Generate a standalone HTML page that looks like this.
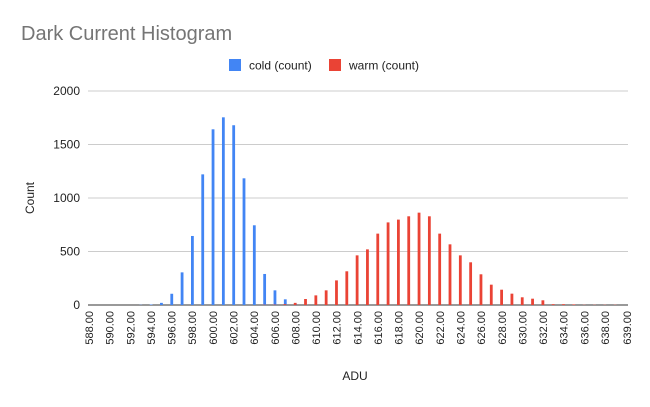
<!DOCTYPE html>
<html><head><meta charset="utf-8"><style>
body{margin:0;background:#fff;font-family:"Liberation Sans",Arial,sans-serif}
svg text{font-family:"Liberation Sans",Arial,sans-serif}
</style></head><body>
<svg id="chart" width="650" height="402" viewBox="0 0 650 402">
<rect width="650" height="402" fill="#fff"/>
<text x="21" y="40" font-size="20" fill="#757575">Dark Current Histogram</text>
<g>
<rect x="229" y="59" width="12" height="12" fill="#4285f4"/>
<text x="249" y="69.5" font-size="12" fill="#222">cold (count)</text>
<rect x="329" y="59" width="12" height="12" fill="#ea4335"/>
<text x="349" y="69.5" font-size="12" fill="#222">warm (count)</text>
</g>
<g id="grid"></g><g id="bars"></g><g id="xlabels"></g>
<text x="355" y="380" font-size="12" fill="#222" text-anchor="middle">ADU</text>
<text transform="translate(34,198) rotate(-90)" font-size="12" fill="#222" text-anchor="middle">Count</text>
</svg>
<script>
const categories=[588,589,590,591,592,593,594,595,596,597,598,599,600,601,602,603,604,605,606,607,608,609,610,611,612,613,614,615,616,617,618,619,620,621,622,623,624,625,626,627,628,629,630,631,632,633,634,635,636,637,638,639];
const coldValues=[0,0,0,0,0,2,5,20,105,305,645,1221,1642,1754,1680,1184,745,290,137,53,10,3,0,0,0,3,0,0,0,0,0,0,0,0,0,0,0,0,0,0,0,0,0,0,0,0,0,0,0,0,0,0];
const warmValues=[0,0,0,0,0,0,0,0,0,0,0,0,0,0,0,0,0,3,4,8,20,56,90,137,230,315,464,520,667,772,798,829,863,829,667,567,464,399,287,190,143,106,72,59,44,8,8,6,2,2,2,2];
const yTicks=[0,500,1000,1500,2000];
const xTickLabels=["588.00","590.00","592.00","594.00","596.00","598.00","600.00","602.00","604.00","606.00","608.00","610.00","612.00","614.00","616.00","618.00","620.00","622.00","624.00","626.00","628.00","630.00","632.00","634.00","636.00","638.00","639.00"];
const xTickValues=[588,590,592,594,596,598,600,602,604,606,608,610,612,614,616,618,620,622,624,626,628,630,632,634,636,638,639];
const NS="http://www.w3.org/2000/svg";
const X0=88,XR=628,Y0=305,YT=91,YMAX=2000;
function xPos(v){return 89+(v-588)*10.32;}
function yPos(v){return Y0-(v/YMAX)*(Y0-YT);}
function mk(tag,attrs,parent){const e=document.createElementNS(NS,tag);for(const k in attrs)e.setAttribute(k,attrs[k]);parent.appendChild(e);return e;}
const grid=document.getElementById('grid');
yTicks.forEach(t=>{
  const l=mk('line',{x1:X0,x2:XR,y1:yPos(t),y2:yPos(t),stroke:t===0?'#333':'#ccc','stroke-width':1},grid);
  
  
  const tx=mk('text',{x:80,y:yPos(t)+4,'font-size':12,fill:'#222','text-anchor':'end'},grid);
  tx.textContent=t;
  
  
});
const bars=document.getElementById('bars');
categories.forEach((c,i)=>{
  const x=xPos(c);
  if(coldValues[i]>0){
    const b=mk('rect',{x:x-1.2,y:yPos(coldValues[i]),width:2.8,height:Y0-yPos(coldValues[i]),fill:'#4285f4'},bars);
    
    
  }
  if(warmValues[i]>0){
    const b=mk('rect',{x:x-1.6,y:yPos(warmValues[i]),width:2.8,height:Y0-yPos(warmValues[i]),fill:'#ea4335'},bars);
    
    
  }
});
const xl=document.getElementById('xlabels');
xTickValues.forEach((v,i)=>{
  let x=xPos(v); if(v===639) x=627;
  const t=mk('text',{transform:`translate(${x+4},311) rotate(-90)`,'font-size':11,fill:'#222','text-anchor':'end'},xl);
  t.textContent=xTickLabels[i];
  
  
});
</script>
</body></html>
